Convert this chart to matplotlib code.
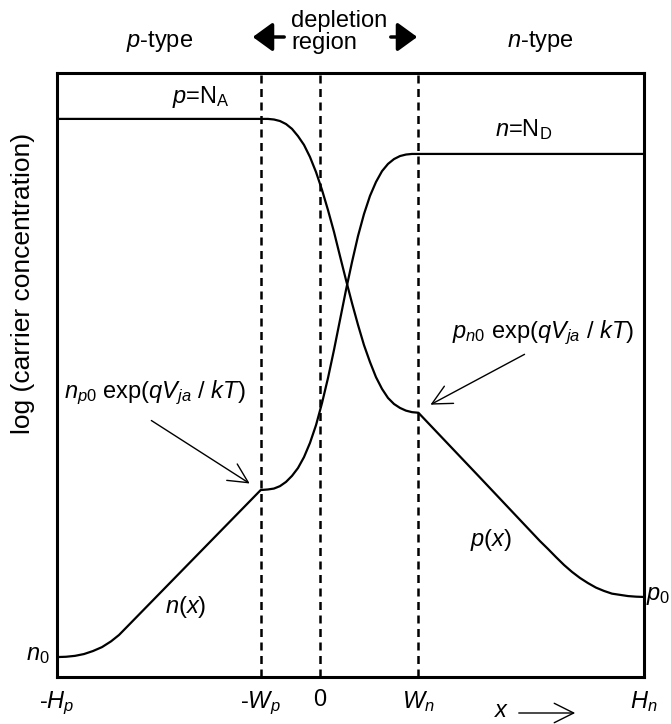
import matplotlib
matplotlib.use("Agg")
import matplotlib.pyplot as plt
from matplotlib.patches import FancyArrowPatch

plt.rcParams["font.family"] = ["Liberation Sans", "DejaVu Sans"]
plt.rcParams["mathtext.fontset"] = "custom"
plt.rcParams["mathtext.rm"] = "Liberation Sans"
plt.rcParams["mathtext.it"] = "Liberation Sans:italic"
plt.rcParams["mathtext.bf"] = "Liberation Sans:bold"

# Region boundaries (arbitrary length units, junction at 0)
x_edges = [-4.435, -1.0, 0.0, 1.66, 5.464]
x_edge_labels = ["-$H_p$", "-$W_p$", "0", "$W_n$", "$H_n$"]

# hole concentration p(x), log scale
p_x = [-4.435, -1.0, -0.877, -0.776, -0.675, -0.573, -0.472, -0.371, -0.270, -0.169,
       -0.067, 0.034, 0.135, 0.236, 0.337, 0.438, 0.540, 0.641, 0.742, 0.843, 0.944,
       1.046, 1.147, 1.248, 1.349, 1.450, 1.551, 1.66, 2.681, 3.710, 3.845, 3.980,
       4.115, 4.250, 4.384, 4.519, 4.654, 4.789, 4.924, 5.059, 5.194, 5.329, 5.464]
p_y = [18.48, 18.48, 18.48, 18.46, 18.41, 18.31, 18.15, 17.91, 17.62, 17.22,
       16.72, 16.13, 15.46, 14.74, 13.94, 13.15, 12.38, 11.66, 10.99, 10.43, 9.93,
       9.54, 9.24, 9.04, 8.91, 8.82, 8.77, 8.75, 6.64, 4.50, 4.24, 3.97,
       3.71, 3.48, 3.28, 3.11, 2.96, 2.85, 2.76, 2.72, 2.68, 2.66, 2.65]

# electron concentration n(x), log scale
n_x = [-4.435, -4.283, -4.132, -3.980, -3.828, -3.676, -3.524, -3.390, -3.255, -2.125,
       -1.0, -0.877, -0.776, -0.675, -0.573, -0.472, -0.371, -0.270, -0.169,
       -0.067, 0.034, 0.135, 0.236, 0.337, 0.438, 0.540, 0.641, 0.742, 0.843, 0.944,
       1.046, 1.147, 1.248, 1.349, 1.450, 1.551, 1.66, 5.464]
n_y = [0.66, 0.67, 0.70, 0.76, 0.86, 0.99, 1.18, 1.39, 1.66, 3.93,
       6.19, 6.21, 6.24, 6.32, 6.46, 6.66, 6.92, 7.28, 7.75,
       8.34, 9.07, 9.90, 10.83, 11.82, 12.81, 13.74, 14.60, 15.33, 15.93, 16.39,
       16.75, 16.99, 17.15, 17.25, 17.30, 17.32, 17.32, 17.32]

W, H = 671, 724
fig = plt.figure(figsize=(W / 100, H / 100), dpi=100)
ax = fig.add_axes([57 / W, 1 - 677 / H, 587 / W, 604 / H])
ax.set_xlim(x_edges[0], x_edges[-1])
ax.set_ylim(0, 20)


def fxy(px, py):
    """Figure-fraction coordinates from a pixel position (origin top-left)."""
    return px / W, 1 - py / H


ax.plot(p_x, p_y, color="black", lw=1.6, solid_joinstyle="round")
ax.plot(n_x, n_y, color="black", lw=1.6, solid_joinstyle="round")

for xe in x_edges[1:4]:
    ax.axvline(xe, color="black", lw=1.8, ls=(0, (3.2, 2.2)))

for s in ax.spines.values():
    s.set_linewidth(2.2)

FS = 17
ax.set_xticks(x_edges, x_edge_labels, fontsize=FS)
ax.tick_params(axis="x", length=0, pad=9)
ax.set_yticks([])

fig.text(*fxy(23, 283), "log (carrier concentration)", rotation=90,
         ha="center", va="center", fontsize=19)
fig.text(*fxy(160, 42), "$p$-type", ha="center", va="center", fontsize=FS)
fig.text(*fxy(540, 42), "$n$-type", ha="center", va="center", fontsize=FS)
fig.text(*fxy(291, 32), "depletion\nregion", ha="left", va="center",
         fontsize=FS, linespacing=1.05, multialignment="left")

for tail, tip in [((287, 37), (250, 37)), ((388, 37), (420, 37))]:
    fig.patches.append(FancyArrowPatch(fxy(*tail), fxy(*tip), transform=fig.transFigure,
                                       arrowstyle="-|>,head_length=0.55,head_width=0.4",
                                       mutation_scale=22, lw=2.5, color="black"))

fig.text(*fxy(172, 97), "$p$=N$_\\mathrm{A}$", ha="left", va="center", fontsize=FS)
fig.text(*fxy(495, 130), "$n$=N$_\\mathrm{D}$", ha="left", va="center", fontsize=FS)
fig.text(*fxy(165, 607), "$n(x)$", ha="left", va="center", fontsize=FS)
fig.text(*fxy(470, 540), "$p(x)$", ha="left", va="center", fontsize=FS)
fig.text(*fxy(50, 655), "$n_\\mathit{0}$", ha="right", va="center", fontsize=FS)
fig.text(*fxy(646, 596), "$p_\\mathit{0}$", ha="left", va="center", fontsize=FS)

fig.text(*fxy(64, 393), "$n_{\\mathit{p0}}$ exp($qV_{ja}$ / $kT$)", ha="left", va="center",
         fontsize=FS)
fig.text(*fxy(452, 333), "$p_{\\mathit{n0}}$ exp($qV_{ja}$ / $kT$)", ha="left", va="center",
         fontsize=FS)

for tail, tip in [((149, 419), (252, 485)), ((527, 353), (428, 406))]:
    fig.patches.append(FancyArrowPatch(fxy(*tail), fxy(*tip), transform=fig.transFigure,
                                       arrowstyle="->,head_length=0.7,head_width=0.35",
                                       mutation_scale=20, lw=1.0, color="black"))

fig.text(*fxy(502, 711), "$x$", ha="center", va="center", fontsize=FS)
fig.patches.append(FancyArrowPatch(fxy(516, 713), fxy(578, 713), transform=fig.transFigure,
                                   arrowstyle="->,head_length=0.7,head_width=0.35",
                                   mutation_scale=20, lw=1.0, color="black"))

fig.savefig("out.png", dpi=100)
